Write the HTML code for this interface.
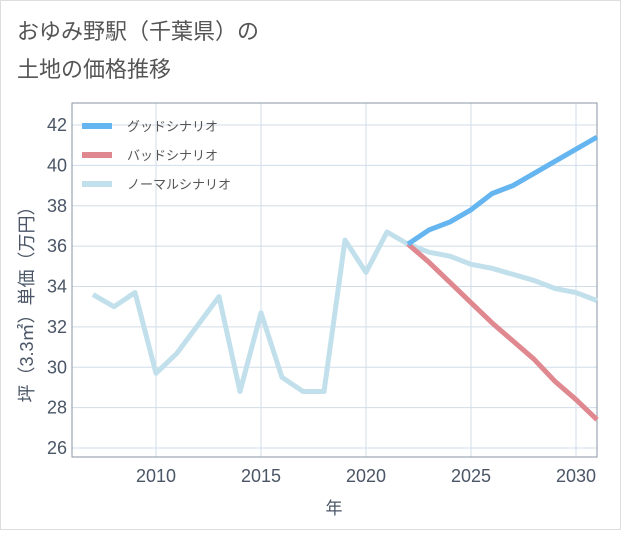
<!DOCTYPE html>
<html><head><meta charset="utf-8"><style>
body{margin:0;background:#fff;}
svg text{font-family:"Liberation Sans","Noto Sans CJK JP",sans-serif;}
</style></head><body>
<svg width="621" height="530" xmlns="http://www.w3.org/2000/svg">
<rect x="0.5" y="0.5" width="620" height="529" fill="#fff" stroke="#ddd"/>
<text x="17" y="39" font-size="22" fill="#555">おゆみ野駅（千葉県）の</text>
<text x="17" y="77" font-size="22" fill="#555">土地の価格推移</text>
<g id="grid"></g>
<g id="axes"></g>
<g id="series"></g>
<g id="legend"></g>
<text transform="translate(33,300) rotate(-90)" text-anchor="middle" font-size="18" fill="#4a5566">坪（3.3㎡）単価（万円）</text>
<text x="334" y="514" text-anchor="middle" font-size="17" fill="#4a5566">年</text>
</svg>
<script>
const normalYears=[2007,2008,2009,2010,2011,2012,2013,2014,2015,2016,2017,2018,2019,2020,2021,2022,2023,2024,2025,2026,2027,2028,2029,2030,2031];
const normalValues=[33.6,33.0,33.7,29.7,30.7,32.1,33.5,28.8,32.7,29.5,28.8,28.8,36.3,34.7,36.7,36.1,35.7,35.5,35.1,34.9,34.6,34.3,33.9,33.7,33.3];
const futureYears=[2022,2023,2024,2025,2026,2027,2028,2029,2030,2031];
const goodValues=[36.1,36.8,37.2,37.8,38.6,39.0,39.6,40.2,40.8,41.4];
const badValues=[36.1,35.2,34.2,33.2,32.2,31.3,30.4,29.3,28.4,27.4];
const yTicks=[26,28,30,32,34,36,38,40,42];
const xTicks=[2010,2015,2020,2025,2030];
const NS="http://www.w3.org/2000/svg";
const L=72,R=597,T=103,B=457;
const x=v=>156+(v-2010)*21;
const y=v=>448-(v-26)*(323/16);
function mk(tag,attrs,parent){const e=document.createElementNS(NS,tag);for(const k in attrs)e.setAttribute(k,attrs[k]);parent.appendChild(e);return e;}
const grid=document.getElementById('grid'),axes=document.getElementById('axes'),series=document.getElementById('series'),legend=document.getElementById('legend');
yTicks.forEach(t=>{
 const ln=mk('line',{x1:L,x2:R,y1:y(t),y2:y(t),stroke:'#d0dde8','stroke-width':1},grid);
 
 
 const tx=mk('text',{x:L-5,y:y(t)+6,'text-anchor':'end','font-size':18,fill:'#4a5566'},axes);
 tx.textContent=t;
 
 
});
xTicks.forEach(t=>{
 const ln=mk('line',{x1:x(t),x2:x(t),y1:T,y2:B,stroke:'#d0dde8','stroke-width':1},grid);
 
 
 const tx=mk('text',{x:x(t),y:B+25,'text-anchor':'middle','font-size':18,fill:'#4a5566'},axes);
 tx.textContent=t;
 
 
});
const fr=mk('path',{d:`M${L},${T}H${R}V${B}H${L}Z`,fill:'none',stroke:'#8a96a3','stroke-width':1},axes);


function line(xs,vs,color,name){
 const p=mk('polyline',{points:xs.map((a,i)=>x(a)+','+y(vs[i])).join(' '),fill:'none',stroke:color,'stroke-width':5,'stroke-linejoin':'round'},series);
 
 
}
line(normalYears,normalValues,'#c1e0ec','normal-scenario-line');
line(futureYears,badValues,'#e0888f','bad-scenario-line');
line(futureYears,goodValues,'#64b5f0','good-scenario-line');
[['グッドシナリオ','#64b5f0'],['バッドシナリオ','#e0888f'],['ノーマルシナリオ','#c1e0ec']].forEach((e,i)=>{
 const yy=126+i*29;
 const r=mk('rect',{x:82,y:yy-3,width:30,height:6,fill:e[1]},legend);
 
 
 const t=mk('text',{x:127,y:yy+5,'font-size':13,fill:'#555'},legend);
 t.textContent=e[0];
 
 
});
</script>
</body></html>
